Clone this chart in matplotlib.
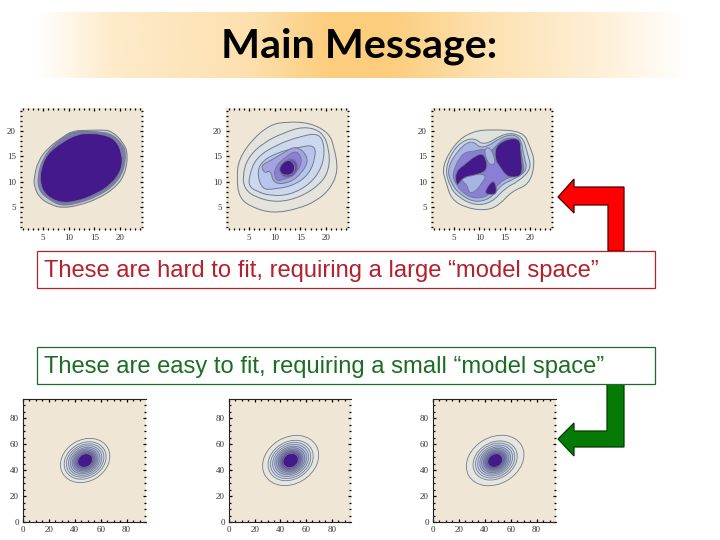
import numpy as np
import matplotlib
matplotlib.use('Agg')
import matplotlib.pyplot as plt
from matplotlib.patches import Ellipse, PathPatch, Polygon, Rectangle
from matplotlib.path import Path

# Textos
titulo = 'Main Message:'
texto_rojo = 'These are hard to fit, requiring a large \u201cmodel space\u201d'
texto_verde = 'These are easy to fit, requiring a small \u201cmodel space\u201d'

# Ticks de los paneles
ticks_arriba = [5, 10, 15, 20]
ticks_abajo = [0, 20, 40, 60, 80]

# Panel 1 de arriba: contornos
p1_x = [
    [3.2, 4.0, 6.1, 8.7, 10.7, 13.5, 16.3, 18.4, 20.6, 21.6, 21.0, 19.0, 15.6, 12.2, 8.9, 6.6, 4.3, 3.3],
    [3.9, 4.9, 6.8, 9.2, 11.2, 13.5, 16.2, 18.6, 20.6, 21.2, 20.7, 18.7, 15.3, 12.0, 8.6, 6.1, 4.2],
    [4.5, 5.7, 8.7, 11.8, 14.0, 16.4, 19.1, 20.5, 20.4, 18.3, 15.0, 11.6, 8.2, 5.4, 4.4],
]
p1_y = [
    [10.6, 14.1, 16.8, 18.7, 20.0, 20.1, 20.2, 20.0, 17.8, 15.5, 11.4, 8.7, 6.6, 5.4, 4.8, 5.4, 6.8, 9.0],
    [11.0, 14.5, 17.0, 18.9, 19.9, 19.9, 19.8, 19.3, 17.2, 15.5, 12.0, 9.1, 7.0, 5.8, 5.2, 6.5, 8.2],
    [12.3, 15.4, 17.8, 19.4, 19.5, 19.4, 18.4, 15.5, 12.4, 9.4, 7.4, 6.1, 5.8, 7.4, 9.7],
]
p1_col = ['#c3c8d2', '#7f78b4', '#43198c']

# Panel 2 de arriba
p2_x = [
    [2.6, 3.0, 5.6, 9.1, 12.3, 16.9, 20.6, 21.6, 22.4, 21.0, 18.2, 14.3, 9.7, 5.6, 3.0],
    [3.7, 4.7, 7.8, 11.7, 15.6, 19.3, 20.7, 20.6, 18.9, 14.9, 10.4, 6.3, 4.2],
    [5.0, 6.3, 10.4, 14.9, 18.7, 19.8, 19.3, 16.9, 13.0, 9.1, 6.3, 5.0],
    [7.2, 10.4, 14.3, 17.8, 18.0, 16.7, 13.6, 9.7, 7.6, 6.6],
    [7.3, 9.1, 11.7, 14.4, 16.8, 15.3, 13.0, 9.8, 9.2, 8.0],
    [9.8, 12.3, 14.4, 15.5, 14.0, 11.7, 10.2],
    [10.9, 13.3, 14.8, 13.7, 11.3],
    [10.8, 12.7, 14.1, 13.5, 11.2],
]
p2_y = [
    [11.0, 14.4, 18.3, 21.2, 21.8, 21.6, 19.6, 16.8, 12.3, 8.8, 6.2, 4.6, 3.8, 4.9, 6.9],
    [11.0, 14.7, 17.7, 19.6, 20.9, 19.9, 16.2, 12.3, 9.5, 6.9, 5.9, 6.9, 8.5],
    [11.0, 14.7, 17.3, 18.9, 19.6, 16.8, 12.9, 9.5, 7.4, 7.2, 8.2, 9.1],
    [13.8, 15.7, 16.7, 17.3, 14.9, 11.4, 9.2, 8.5, 8.5, 11.3],
    [13.2, 14.1, 15.7, 17.2, 14.5, 11.7, 9.8, 9.5, 12.3, 11.6],
    [12.6, 15.1, 16.2, 14.0, 11.4, 10.4, 10.1],
    [13.2, 14.9, 13.2, 10.9, 10.9],
    [13.0, 14.6, 13.1, 11.3, 11.3],
]
p2_col = ['#e4e3dc', '#dbe0e6', '#ccd8ee', '#b6c4ee', '#a3a2e4', '#8c7fd6', '#6a4db8', '#43198c']

# Panel 3 de arriba
p3_x = [
    [2.6, 5.3, 8.6, 12.5, 18.6, 19.9, 21.0, 19.9, 16.5, 13.8, 11.2, 7.2, 4.5, 3.5],
    [3.2, 5.6, 8.9, 10.9, 15.1, 18.5, 19.5, 20.3, 17.8, 15.1, 12.5, 9.2, 5.9, 4.2],
    [3.6, 5.9, 8.6, 10.5, 15.1, 18.1, 18.8, 19.5, 17.1, 14.4, 12.2, 9.0, 6.2, 4.6],
    [4.6, 6.6, 9.0, 10.9, 12.2, 13.5, 15.1, 17.8, 18.5, 18.9, 16.5, 14.2, 11.9, 9.0, 6.6, 5.3],
    [10.9, 12.2, 13.3, 12.5, 11.5],
    [6.3, 9.3, 11.5, 10.5, 9.3, 8.0, 7.6, 6.7],
    [13.3, 18.0, 18.2, 18.6, 16.5, 15.2, 14.0, 13.0],
    [5.2, 7.2, 9.3, 11.0, 11.8, 9.4, 6.8, 5.5],
    [10.8, 12.9, 13.6, 12.2],
]
p3_y = [
    [12.9, 17.7, 19.9, 20.3, 19.9, 17.1, 13.9, 9.5, 8.2, 5.3, 4.3, 4.9, 6.6, 9.7],
    [12.8, 17.4, 18.8, 17.0, 19.7, 19.1, 15.5, 12.6, 10.1, 8.8, 5.9, 5.3, 6.9, 9.0],
    [12.5, 16.4, 18.3, 16.2, 19.3, 19.0, 14.9, 12.3, 10.6, 9.5, 6.6, 5.9, 7.5, 9.4],
    [11.6, 15.7, 16.0, 16.5, 15.8, 17.3, 18.6, 18.6, 14.2, 11.7, 11.1, 10.1, 7.2, 6.6, 7.9, 9.7],
    [16.5, 16.8, 13.9, 13.2, 13.9],
    [11.0, 11.6, 11.3, 9.7, 8.1, 7.7, 9.4, 10.0],
    [17.6, 19.0, 15.5, 11.2, 10.8, 11.2, 13.0, 14.5],
    [11.9, 13.5, 15.2, 15.6, 12.3, 11.3, 10.9, 8.8],
    [7.8, 10.8, 7.7, 7.4],
]
p3_col = ['#e0e2dc', '#c9d5ec', '#a9b4e6', '#8a7fd8', '#a9b4e6', '#a9b4e6', '#43198c', '#43198c', '#43198c']

# Paneles de abajo: ejes de las elipses por nivel
abajo_col = ['#e6e6e0', '#dde2e8', '#cfd9ec', '#bfcbec', '#aeb8e6', '#9a9fde',
             '#8580d2', '#6e5cc0', '#5a3aa8', '#43198c']
b1_anchos = [40, 34, 30.5, 27, 24, 21, 18.5, 16, 14, 12]
b1_altos = [32, 27, 24, 21.5, 19, 17, 15, 13, 11.5, 10]
b2_anchos = [46, 37, 33, 29.5, 26, 23, 20, 17.5, 15, 12.5]
b2_altos = [36, 29, 26, 23, 20.5, 18.5, 16.5, 14.5, 12.5, 10.5]
b3_anchos = [47, 36, 32, 28.5, 25, 22, 19, 16.5, 14, 12]
b3_altos = [36, 28, 25, 22, 19.5, 17.5, 15.5, 13.5, 12, 10]

fondo = '#efe6d5'
linea = '#737d88'


def eje(izq, arr, der, aba):
    # posicion en pixeles de la imagen
    return fig.add_axes([izq / 720, 1 - aba / 540, (der - izq) / 720, (aba - arr) / 540])


def formato(ax, ticks, lims, menores, ancho):
    ax.set_facecolor(fondo)
    ax.set_xlim(lims)
    ax.set_ylim(lims)
    ax.set_xticks(ticks)
    ax.set_yticks(ticks)
    ax.set_xticks(menores, minor=True)
    ax.set_yticks(menores, minor=True)
    ax.tick_params(which='major', direction='in', length=2.5, width=0.9, labelsize=6.5,
                   pad=3, labelcolor='#333333', top=True, right=True)
    ax.tick_params(which='minor', direction='in', length=1.2, width=0.9, top=True, right=True)
    for lab in ax.get_xticklabels() + ax.get_yticklabels():
        lab.set_family('Liberation Serif')
    for s in ax.spines.values():
        s.set_linewidth(ancho)
        s.set_color('#222222')


def suave(x, y):
    # curva cerrada que usa los puntos leidos como puntos de control
    v = np.column_stack([x, y])
    medios = (v + np.roll(v, -1, axis=0)) / 2
    verts = [medios[-1]]
    codes = [Path.MOVETO]
    for p, m in zip(v, medios):
        verts += [p, m]
        codes += [Path.CURVE3, Path.CURVE3]
    return Path(verts, codes)


def contornos(ax, xs, ys, cols):
    for x, y, c in zip(xs, ys, cols):
        ax.add_patch(PathPatch(suave(x, y), facecolor=c, edgecolor=linea, linewidth=0.7))


def elipses(ax, anchos, altos):
    for w, h, c in zip(anchos, altos, abajo_col):
        ax.add_patch(Ellipse((48, 47.5), w, h, angle=30, facecolor=c, edgecolor=linea, linewidth=0.6))


fig = plt.figure(figsize=(7.2, 5.4), dpi=100)

lim_arriba = (0.5, 24.5)
lim_abajo = (0, 95)
men_arriba = np.arange(1, 25)
men_abajo = np.arange(0, 95, 5)

for (izq, der), xs, ys, cols in [((20, 143), p1_x, p1_y, p1_col),
                                 ((226, 349), p2_x, p2_y, p2_col),
                                 ((431, 553), p3_x, p3_y, p3_col)]:
    ax = eje(izq, 108, der, 230)
    formato(ax, ticks_arriba, lim_arriba, men_arriba, 0)
    contornos(ax, xs, ys, cols)

for (izq, der), an, al in [((23, 146), b1_anchos, b1_altos),
                           ((229, 351), b2_anchos, b2_altos),
                           ((433, 556), b3_anchos, b3_altos)]:
    ax = eje(izq, 399, der, 522)
    formato(ax, ticks_abajo, lim_abajo, men_abajo, 0.8)
    ax.spines['right'].set_visible(False)
    elipses(ax, an, al)

# Capa superior en pixeles: titulo, cajas y flechas
capa = fig.add_axes([0, 0, 1, 1])
capa.axis('off')
capa.patch.set_alpha(0)

# banda degradada del titulo
grad_px = np.arange(35, 686)
grad_alfa = np.interp(grad_px, [35, 60, 110, 250, 330, 390, 480, 610, 660, 685],
                      [0, 0.12, 0.4, 0.62, 1, 1, 0.62, 0.28, 0.1, 0])
grad = np.zeros((1, grad_px.size, 4))
grad[..., :3] = matplotlib.colors.to_rgb('#fccd7c')
grad[..., 3] = grad_alfa
capa.imshow(grad, extent=(35, 685, 78, 12), aspect='auto', zorder=1)
capa.set_xlim(0, 720)
capa.set_ylim(540, 0)

capa.text(359.5, 46, titulo, fontsize=29.7, fontweight='bold', family='Lato',
          ha='center', va='center', color='black', zorder=2)

flecha_roja = [(558, 197), (574, 179), (574, 187), (624, 187), (624, 251),
               (608, 251), (608, 205), (574, 205), (574, 213)]
flecha_verde = [(558, 439), (574, 423), (574, 431), (607, 431), (607, 384),
                (624, 384), (624, 447), (574, 447), (574, 456)]
capa.add_patch(Polygon(flecha_roja, closed=True, facecolor='#ff0000', edgecolor='#4a0000',
                       linewidth=0.9, zorder=2))
capa.add_patch(Polygon(flecha_verde, closed=True, facecolor='#057a05', edgecolor='#033d03',
                       linewidth=0.9, zorder=2))

capa.add_patch(Rectangle((37, 251), 618, 37, facecolor='white', edgecolor='#b8202c',
                         linewidth=0.9, zorder=3))
capa.add_patch(Rectangle((37, 347), 618, 37, facecolor='white', edgecolor='#1c6b2a',
                         linewidth=0.9, zorder=3))
capa.text(44, 271.5, texto_rojo, fontsize=17.15, family='Liberation Sans', color='#b5202b',
          ha='left', va='center', zorder=4)
capa.text(44, 367.5, texto_verde, fontsize=17.15, family='Liberation Sans', color='#1b6e22',
          ha='left', va='center', zorder=4)

fig.savefig('out.png', dpi=100)
